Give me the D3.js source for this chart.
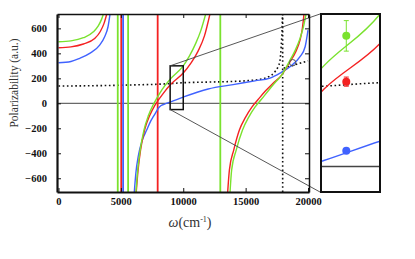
<!DOCTYPE html>
<html>
<head>
<meta charset="utf-8">
<script src="https://cdn.jsdelivr.net/npm/d3@7/dist/d3.min.js"></script>
<style>
  body { margin: 0; background: #fff; }
  svg { display: block; }
  .tick text { font-family: "Liberation Serif", serif; font-weight: bold; font-size: 10.5px; fill: #111; }
</style>
</head>
<body>
<svg width="415" height="259"></svg>
<script>
// tick values
const omegaTicks = [0, 5000, 10000, 15000, 20000];
const alphaTicks = [-600, -400, -200, 0, 200, 400, 600];

// polarizability curves, [omega (cm-1), alpha (a.u.)], one array per branch
const greenBranches = [
  [[0, 493], [1000, 500], [2000, 525], [2800, 572], [3200, 622], [3450, 672], [3600, 715]],
  [[6210, -712], [6350, -533], [6550, -373], [6850, -214], [7200, -100], [7550, -20], [7850, 35],
   [8300, 110], [9000, 198], [10000, 300], [10500, 380], [11000, 480], [11400, 580], [11800, 715]],
  [[13750, -712], [13880, -533], [14250, -373], [14750, -214], [15250, -110], [15750, -30],
   [16250, 30], [16850, 105], [17400, 170], [17890, 226], [18560, 346], [19000, 430],
   [19360, 520], [19650, 620], [19840, 715]]
];
const redBranches = [
  [[0, 445], [1000, 452], [2000, 475], [2900, 518], [3350, 575], [3650, 640], [3870, 715]],
  [[6230, -712], [6380, -533], [6580, -373], [6900, -214], [7300, -100], [7700, -20], [8000, 25],
   [8400, 80], [9000, 152], [10000, 242], [10600, 320], [11200, 420], [11700, 540], [12140, 715]],
  [[13560, -712], [13700, -533], [14050, -373], [14500, -214], [15000, -110], [15500, -30],
   [16000, 30], [16600, 100], [17200, 160], [17890, 226], [18560, 333], [19000, 410],
   [19360, 506], [19550, 600], [19680, 715]]
];
const blueBranches = [
  [[0, 325], [1000, 335], [1700, 360], [2500, 400], [3300, 466], [3700, 533], [3970, 613], [4130, 715]],
  [[6075, -712], [6200, -560], [6400, -420], [6700, -300], [7070, -214], [7400, -140], [7600, -107],
   [7850, -65], [8000, -40], [8200, -20], [8500, -6], [9000, 12], [10000, 50], [12000, 115],
   [14000, 150], [15750, 180], [16950, 202], [17760, 242], [18560, 293], [19360, 373],
   [19770, 453], [20000, 586]]
];
const dottedBranches = [
  [[0, 138], [5000, 145], [9000, 158], [10000, 165], [12000, 170], [14000, 175], [15000, 180],
   [16000, 190], [16800, 210], [17350, 253], [17600, 293], [17760, 346], [17850, 453], [17920, 586], [17960, 715]],
  [[18050, 280], [18500, 295], [19000, 310], [19500, 325], [20000, 340]]
];

// narrow resonances drawn as full-height vertical lines
const resonanceOmega = [4750, 5030, 5180, 5580, 7950, 12970];
const resonanceSeries = ['green', 'red', 'blue', 'green', 'red', 'green'];
const dottedResonance = 17970;

// measured points in the inset
const pointOmega = [9400, 9400, 9400];
const pointAlpha = [257, 167, 31];
const pointError = [30, 9, 0];
const pointSeries = ['green', 'red', 'blue'];

// open circle marker
const circleOmega = 18770;
const circleAlpha = 325;

// zoomed window
const zoomOmega = [8950, 10000];
const zoomAlpha = [-50, 300];

const colors = { green: '#7ae22e', red: '#f42222', blue: '#4062ff' };

const svg = d3.select('svg');

const x = d3.scaleLinear().domain([-120, 20080]).range([57, 309]);
const y = d3.scaleLinear().domain([-710, 715]).range([192, 14]);
const xi = d3.scaleLinear().domain(zoomOmega).range([321, 380]);
const yi = d3.scaleLinear().domain(zoomAlpha).range([192, 14]);

const defs = svg.append('defs');
defs.append('clipPath').attr('id', 'clip-main')
  .append('rect').attr('x', 57).attr('y', 14).attr('width', 252).attr('height', 178);
defs.append('clipPath').attr('id', 'clip-inset')
  .append('rect').attr('x', 321).attr('y', 14).attr('width', 59).attr('height', 178);

function drawPanel(g, sx, sy, showVerticals) {
  const line = d3.line().x(d => sx(d[0])).y(d => sy(d[1])).curve(d3.curveMonotoneX);
  const [x0, x1] = sx.range();
  const [y0, y1] = sy.range();

  // zero line
  g.append('line')
    .attr('x1', x0).attr('x2', x1)
    .attr('y1', sy(0)).attr('y2', sy(0))
    .attr('stroke', '#444').attr('stroke-width', showVerticals ? 1 : 1.5);

  // dotted reference curve
  g.selectAll('.dotted')
    .data(dottedBranches)
    .enter()
    .append('path')
    .attr('d', line)
    .attr('fill', 'none')
    .attr('stroke', '#111')
    .attr('stroke-width', 1.6)
    .attr('stroke-dasharray', '1.6,2.6');

  if (showVerticals) {
    g.append('line')
      .attr('x1', sx(dottedResonance)).attr('x2', sx(dottedResonance))
      .attr('y1', y0).attr('y2', y1)
      .attr('stroke', '#111').attr('stroke-width', 1.6)
      .attr('stroke-dasharray', '1.6,2.6');

    g.selectAll('.res')
      .data(resonanceOmega)
      .enter()
      .append('line')
      .attr('x1', d => sx(d)).attr('x2', d => sx(d))
      .attr('y1', y0).attr('y2', y1)
      .attr('stroke', (d, i) => colors[resonanceSeries[i]])
      .attr('stroke-width', 1.8);
  }

  const series = [['blue', blueBranches], ['red', redBranches], ['green', greenBranches]];
  series.forEach(([key, branches]) => {
    g.selectAll('.c-' + key)
      .data(branches)
      .enter()
      .append('path')
      .attr('d', line)
      .attr('fill', 'none')
      .attr('stroke', colors[key])
      .attr('stroke-width', 1.4);
  });
}

// main plot
const main = svg.append('g').attr('clip-path', 'url(#clip-main)');
drawPanel(main, x, y, true);

main.append('circle')
  .attr('cx', x(circleOmega)).attr('cy', y(circleAlpha)).attr('r', 3.2)
  .attr('fill', 'none').attr('stroke', '#555').attr('stroke-width', 1);

// zoom rectangle and connectors
svg.append('rect')
  .attr('x', x(zoomOmega[0])).attr('y', y(zoomAlpha[1]))
  .attr('width', x(zoomOmega[1]) - x(zoomOmega[0]))
  .attr('height', y(zoomAlpha[0]) - y(zoomAlpha[1]))
  .attr('fill', 'none').attr('stroke', '#111').attr('stroke-width', 1.5);

svg.append('line')
  .attr('x1', x(zoomOmega[0])).attr('y1', y(zoomAlpha[1]))
  .attr('x2', 320).attr('y2', 14)
  .attr('stroke', '#444').attr('stroke-width', 0.9);
svg.append('line')
  .attr('x1', x(zoomOmega[0])).attr('y1', y(zoomAlpha[0]))
  .attr('x2', 320).attr('y2', 192)
  .attr('stroke', '#444').attr('stroke-width', 0.9);

// axes
const axLeft = svg.append('g').attr('transform', 'translate(57,0)')
  .call(d3.axisLeft(y).tickValues(alphaTicks).tickSizeInner(-4).tickSizeOuter(0).tickPadding(10));
const axBottom = svg.append('g').attr('transform', 'translate(0,192)')
  .call(d3.axisBottom(x).tickValues(omegaTicks).tickSizeInner(-4).tickSizeOuter(0).tickPadding(6).tickFormat(d3.format('d')));
const axTop = svg.append('g').attr('transform', 'translate(0,14)')
  .call(d3.axisTop(x).tickValues(omegaTicks).tickSizeInner(-4).tickSizeOuter(0).tickFormat(''));
const axRight = svg.append('g').attr('transform', 'translate(309,0)')
  .call(d3.axisRight(y).tickValues(alphaTicks).tickSizeInner(-4).tickSizeOuter(0).tickFormat(''));

[axLeft, axBottom].forEach(a => {
  a.select('.domain').attr('stroke', '#111').attr('stroke-width', 2.2);
  a.selectAll('.tick line').attr('stroke', '#111').attr('stroke-width', 1);
});
[axTop, axRight].forEach(a => {
  a.select('.domain').attr('stroke', '#111').attr('stroke-width', 1.5);
  a.selectAll('.tick line').attr('stroke', '#111').attr('stroke-width', 1);
});

// inset
const inset = svg.append('g').attr('clip-path', 'url(#clip-inset)');
drawPanel(inset, xi, yi, false);

pointOmega.forEach((w, i) => {
  const c = colors[pointSeries[i]];
  if (pointError[i] > 0) {
    const cx = xi(w);
    inset.append('line')
      .attr('x1', cx).attr('x2', cx)
      .attr('y1', yi(pointAlpha[i] + pointError[i])).attr('y2', yi(pointAlpha[i] - pointError[i]))
      .attr('stroke', c).attr('stroke-width', 1);
    [pointError[i], -pointError[i]].forEach(e => {
      inset.append('line')
        .attr('x1', cx - 2.5).attr('x2', cx + 2.5)
        .attr('y1', yi(pointAlpha[i] + e)).attr('y2', yi(pointAlpha[i] + e))
        .attr('stroke', c).attr('stroke-width', 1);
    });
  }
  inset.append('circle')
    .attr('cx', xi(w)).attr('cy', yi(pointAlpha[i]))
    .attr('r', 4).attr('fill', c);
});

svg.append('rect')
  .attr('x', 321).attr('y', 14).attr('width', 59).attr('height', 178)
  .attr('fill', 'none').attr('stroke', '#111').attr('stroke-width', 2);

// axis titles
svg.append('text')
  .attr('transform', 'translate(18,83) rotate(-90)')
  .attr('text-anchor', 'middle')
  .attr('font-family', '"Liberation Serif", serif')
  .attr('font-size', 11.5)
  .attr('fill', '#333')
  .text('Polarizability (a.u.)');

const xt = svg.append('text')
  .attr('x', 190).attr('y', 227)
  .attr('text-anchor', 'middle')
  .attr('font-family', '"Liberation Serif", serif')
  .attr('font-size', 14)
  .attr('fill', '#333');
xt.append('tspan').attr('font-style', 'italic').text('ω');
xt.append('tspan').text('(cm');
xt.append('tspan').attr('font-size', 8).attr('dy', -5).text('-1');
xt.append('tspan').attr('dy', 5).text(')');
</script>
</body>
</html>
